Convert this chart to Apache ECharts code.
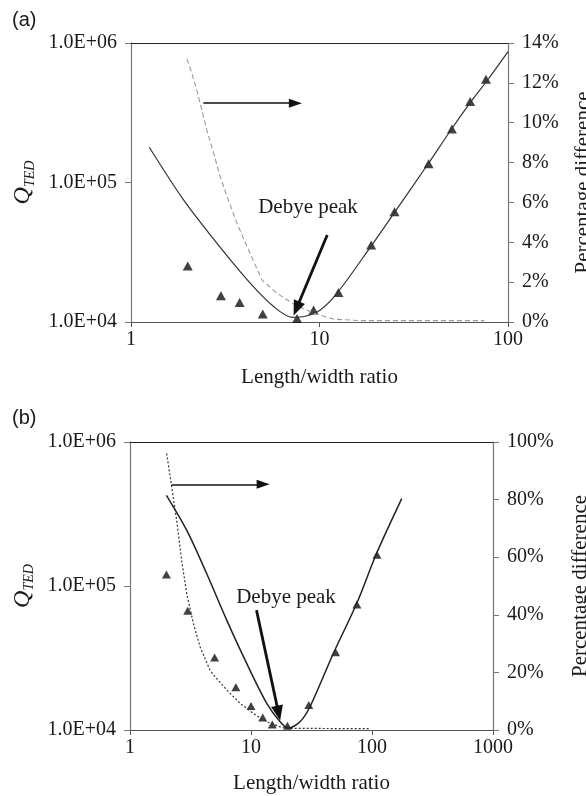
<!DOCTYPE html>
<html>
<head>
<meta charset="utf-8">
<script src="https://cdn.jsdelivr.net/npm/echarts@6/dist/echarts.min.js"></script>
<style>
  html, body { margin: 0; padding: 0; background: #fff; }
  #chart { width: 586px; height: 796px; }
</style>
</head>
<body>
<div id="chart"></div>
<script>
// panel (a): analytical Q_TED curve
const ratioModelA = [1.25, 1.9, 2.86, 4.3, 5.71, 7.16, 8.4, 10.1, 12.4, 18.7, 24.8, 37.4, 49.8, 63.6, 78, 100];
const qModelA = [1.79e5, 7.5e4, 3.66e4, 1.89e4, 1.29e4, 1.08e4, 1.1e4, 1.22e4, 1.61e4, 3.47e4, 6.0e4, 1.34e5, 2.38e5, 3.8e5, 5.43e5, 8.66e5];
// panel (a): simulated points (triangles)
const ratioFemA = [2, 3, 3.77, 5, 7.6, 9.3, 12.6, 18.8, 25, 37.9, 50.4, 63, 76.4];
const qFemA = [2.52e4, 1.54e4, 1.38e4, 1.14e4, 1.06e4, 1.22e4, 1.63e4, 3.56e4, 6.18e4, 1.36e5, 2.42e5, 3.8e5, 5.5e5];
// panel (a): percentage difference (right axis)
const ratioDiffA = [1.98, 2.1, 2.24, 2.38, 2.53, 2.74, 2.97, 3.29, 3.65, 4.12, 4.96, 5.96, 7.16, 9.33, 11.9, 16.5, 74.8];
const pctDiffA = [13.2, 12.5, 11.6, 10.6, 9.6, 8.5, 7.3, 6.1, 4.95, 3.8, 2.1, 1.44, 0.94, 0.44, 0.14, 0.07, 0.07];

// panel (b)
const ratioModelB = [2.0, 2.94, 4.3, 6.3, 9.21, 13.5, 17.4, 20.3, 25.4, 30.7, 47.9, 74.7, 109, 176];
const qModelB = [4.26e5, 2.44e5, 1.22e5, 5.79e4, 2.9e4, 1.53e4, 1.14e4, 1.03e4, 1.14e4, 1.45e4, 3.4e4, 7.56e4, 1.68e5, 4.04e5];
const ratioFemB = [2, 3, 5, 7.5, 10, 12.5, 15, 20, 30, 50, 75, 110];
const qFemB = [1.2e5, 6.72e4, 3.19e4, 1.98e4, 1.47e4, 1.22e4, 1.09e4, 1.07e4, 1.49e4, 3.46e4, 7.44e4, 1.65e5];
const ratioDiffB = [2.01, 2.21, 2.43, 2.67, 2.94, 3.34, 3.79, 4.58, 5.04, 6.3, 8.11, 10.4, 13.5, 17.4, 21, 50, 96];
const pctDiffB = [96, 84.4, 72.8, 59, 47.4, 37, 28.9, 20.8, 18.5, 13.9, 9.3, 5.8, 2.9, 1.1, 0.6, 0.5, 0.5];

// tick labels
const qTickLabels = ["1.0E+04", "1.0E+05", "1.0E+06"];

const pairs = (xs, ys) => xs.map((x, i) => [x, ys[i]]);
const SERIF = "Liberation Serif";
const txt = "#1a1a1a";

const chart = echarts.init(document.getElementById("chart"));

const xLog = (grid, max, gap) => ({
  type: "log",
  logBase: 10,
  gridIndex: grid,
  min: 1,
  max: max,
  name: "Length/width ratio",
  nameLocation: "middle",
  nameGap: gap,
  nameTextStyle: { fontFamily: SERIF, fontSize: 21, color: txt },
  axisLine: { lineStyle: { color: "#555", width: 1.2 } },
  axisTick: { length: 5, lineStyle: { color: "#555" } },
  axisLabel: { fontFamily: SERIF, fontSize: 20, color: txt, margin: 8, formatter: (v) => String(Math.round(v)) },
  splitLine: { show: false },
  minorTick: { show: false },
});
const xTop = (grid) => ({
  type: "value",
  gridIndex: grid,
  position: "top",
  min: 0,
  max: 1,
  axisLine: { show: true, lineStyle: { color: "#222", width: 1.2 } },
  axisTick: { show: false },
  axisLabel: { show: false },
  splitLine: { show: false },
});
const yLog = (grid, gap) => ({
  type: "log",
  logBase: 10,
  gridIndex: grid,
  position: "left",
  min: 1e4,
  max: 1e6,
  name: "{q|Q}{s|TED}",
  nameLocation: "middle",
  nameRotate: 90,
  nameGap: gap,
  nameTextStyle: {
    rich: {
      q: { fontFamily: SERIF, fontStyle: "italic", fontSize: 24, color: txt, lineHeight: 28 },
      s: { fontFamily: SERIF, fontStyle: "italic", fontSize: 14, color: txt, verticalAlign: "bottom", lineHeight: 28, padding: [9, 0, 0, 0] },
    },
  },
  axisLine: { show: true, lineStyle: { color: "#777", width: 1.2 } },
  axisTick: { length: 6, lineStyle: { color: "#777" } },
  axisLabel: {
    fontFamily: SERIF,
    fontSize: 20,
    color: txt,
    margin: 14,
    formatter: (v) => qTickLabels[Math.round(Math.log10(v)) - 4],
  },
  splitLine: { show: false },
  minorTick: { show: false },
});
const yPct = (grid, max, step, gap) => ({
  type: "value",
  gridIndex: grid,
  position: "right",
  min: 0,
  max: max,
  interval: step,
  name: "Percentage difference",
  nameLocation: "middle",
  nameRotate: 90,
  nameGap: gap,
  nameTextStyle: { fontFamily: SERIF, fontSize: 21, color: txt },
  axisLine: { show: true, lineStyle: { color: "#777", width: 1.2 } },
  axisTick: { length: 6, lineStyle: { color: "#777" } },
  axisLabel: { fontFamily: SERIF, fontSize: 20, color: txt, margin: 14, formatter: "{value}%" },
  splitLine: { show: false },
});

const arrowLines = (items) => ({
  silent: true,
  symbol: ["none", "triangle"],
  label: { show: false },
  emphasis: { disabled: true },
  data: items.map((it) => [
    { coord: it.from, lineStyle: { color: "#111", width: it.w, type: "solid" }, symbolSize: it.head },
    { coord: it.to, symbolSize: it.head },
  ]),
});

chart.setOption({
  animation: false,
  textStyle: { fontFamily: SERIF },
  grid: [
    { left: 131, top: 43, width: 377, height: 279, outerBoundsMode: "none", containLabel: false },
    { left: 130, top: 442, width: 363, height: 288, outerBoundsMode: "none", containLabel: false },
  ],
  xAxis: [xLog(0, 100, 45), xLog(1, 1000, 43), xTop(0), xTop(1)],
  yAxis: [yLog(0, 94), yPct(0, 14, 2, 65), yLog(1, 88), yPct(1, 100, 20, 77)],
  graphic: [
    { type: "text", x: 12, y: 10, style: { text: "(a)", font: "20px 'Liberation Sans'", fill: txt } },
    { type: "text", x: 12, y: 408, style: { text: "(b)", font: "20px 'Liberation Sans'", fill: txt } },
    { type: "text", x: 308, y: 207, style: { text: "Debye peak", font: "21px 'Liberation Serif'", fill: txt, textAlign: "center", textVerticalAlign: "middle" } },
    { type: "text", x: 286, y: 597, style: { text: "Debye peak", font: "21px 'Liberation Serif'", fill: txt, textAlign: "center", textVerticalAlign: "middle" } },
  ],
  series: [
    {
      type: "line",
      xAxisIndex: 0,
      yAxisIndex: 0,
      data: pairs(ratioModelA, qModelA),
      smooth: 0.3,
      showSymbol: false,
      lineStyle: { color: "#333", width: 1.2 },
    },
    {
      type: "scatter",
      xAxisIndex: 0,
      yAxisIndex: 0,
      data: pairs(ratioFemA, qFemA),
      symbol: "triangle",
      symbolSize: [10, 9],
      itemStyle: { color: "#111" },
      markLine: arrowLines([
        { from: [2.42, 3.7e5], to: [7.45, 3.7e5], w: 1.6, head: [9, 13] },
        { from: [10.99, 4.2e4], to: [7.55, 1.25e4], w: 2.8, head: [12, 15] },
      ]),
    },
    {
      type: "line",
      xAxisIndex: 0,
      yAxisIndex: 1,
      data: pairs(ratioDiffA, pctDiffA),
      showSymbol: false,
      lineStyle: { color: "#999", width: 1.1, type: [5, 3] },
    },
    {
      type: "line",
      xAxisIndex: 1,
      yAxisIndex: 2,
      data: pairs(ratioModelB, qModelB),
      smooth: 0.3,
      showSymbol: false,
      lineStyle: { color: "#222", width: 1.5 },
    },
    {
      type: "scatter",
      xAxisIndex: 1,
      yAxisIndex: 2,
      data: pairs(ratioFemB, qFemB),
      symbol: "triangle",
      symbolSize: [9, 8],
      itemStyle: { color: "#111" },
      markLine: arrowLines([
        { from: [2.21, 5.08e5], to: [12.6, 5.08e5], w: 1.6, head: [9, 13] },
        { from: [11.1, 6.8e4], to: [16.9, 1.31e4], w: 2.8, head: [12, 15] },
      ]),
    },
    {
      type: "line",
      xAxisIndex: 1,
      yAxisIndex: 3,
      data: pairs(ratioDiffB, pctDiffB),
      showSymbol: false,
      lineStyle: { color: "#333", width: 1.2, type: [2, 2] },
    },
  ],
});
</script>
</body>
</html>
